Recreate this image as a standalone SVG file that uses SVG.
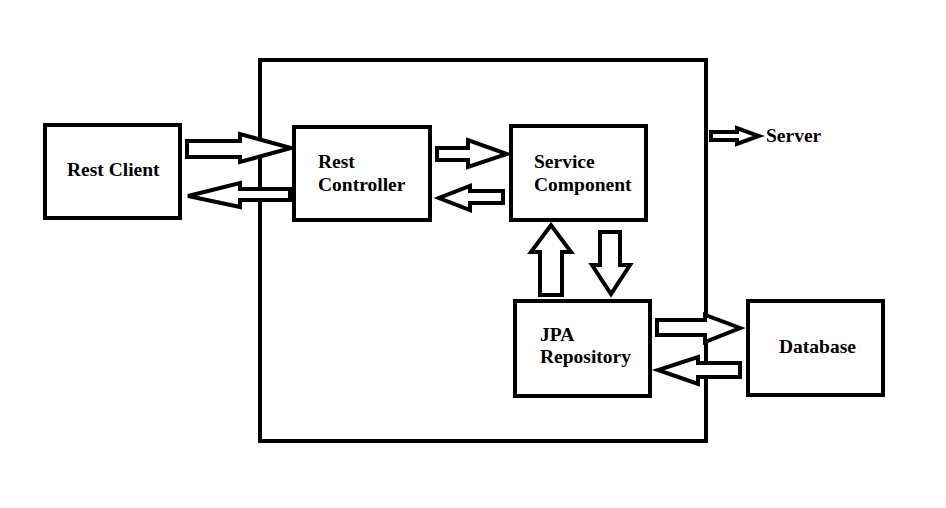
<svg xmlns="http://www.w3.org/2000/svg" width="946" height="508" viewBox="0 0 946 508">
<style>
.box{fill:#fff;stroke:#000;stroke-width:4}
.frame{fill:none;stroke:#000;stroke-width:4}
.arr{fill:#fff;stroke:#000;stroke-width:4;stroke-linejoin:miter}
text{font-family:"Liberation Serif","Times New Roman",serif;font-weight:bold;font-size:19.5px;fill:#000}
</style>
<rect width="946" height="508" fill="#fff"/>
<g id="server">
<rect class="frame" x="260" y="60" width="446" height="381"/>
<text x="766" y="142">Server</text>
</g>
<g id="connectors">
<polygon class="arr" points="187,141 240,141 240,134 291,148 240,162 240,157 187,157"/>
<polygon class="arr" points="290,189 240,189 240,183 188,196 240,207 240,200 290,200"/>
<polygon class="arr" points="437,148 468,148 468,140 507,154 468,167 468,160 437,160"/>
<polygon class="arr" points="503,191 470,191 470,186 439,198 470,210 470,203 503,203"/>
<polygon class="arr" points="540,295 540,252 531,252 551,225 571,252 562,252 562,295"/>
<polygon class="arr" points="600,232 620,232 620,265 630,265 611,294 592,265 600,265"/>
<polygon class="arr" points="657,320 705,320 705,315 740,328 705,342 705,335 657,335"/>
<polygon class="arr" points="740,363 698,363 698,357 658,370 698,384 698,377 740,377"/>
<polygon class="arr" points="711,132 737,132 737,128 759,136 737,144 737,140 711,140"/>
</g>
<g id="rest-client">
<rect class="box" x="45" y="125" width="135" height="93"/>
<text x="67" y="176">Rest Client</text>
</g>
<g id="rest-controller">
<rect class="box" x="294" y="127" width="136" height="93"/>
<text x="318" y="168">Rest</text>
<text x="318" y="191">Controller</text>
</g>
<g id="service-component">
<rect class="box" x="511" y="126" width="135" height="94"/>
<text x="534" y="168">Service</text>
<text x="534" y="191">Component</text>
</g>
<g id="jpa-repository">
<rect class="box" x="515" y="301" width="135" height="95"/>
<text x="540" y="341">JPA</text>
<text x="540" y="363">Repository</text>
</g>
<g id="database">
<rect class="box" x="748" y="301" width="135" height="94"/>
<text x="779" y="353">Database</text>
</g>
</svg>
